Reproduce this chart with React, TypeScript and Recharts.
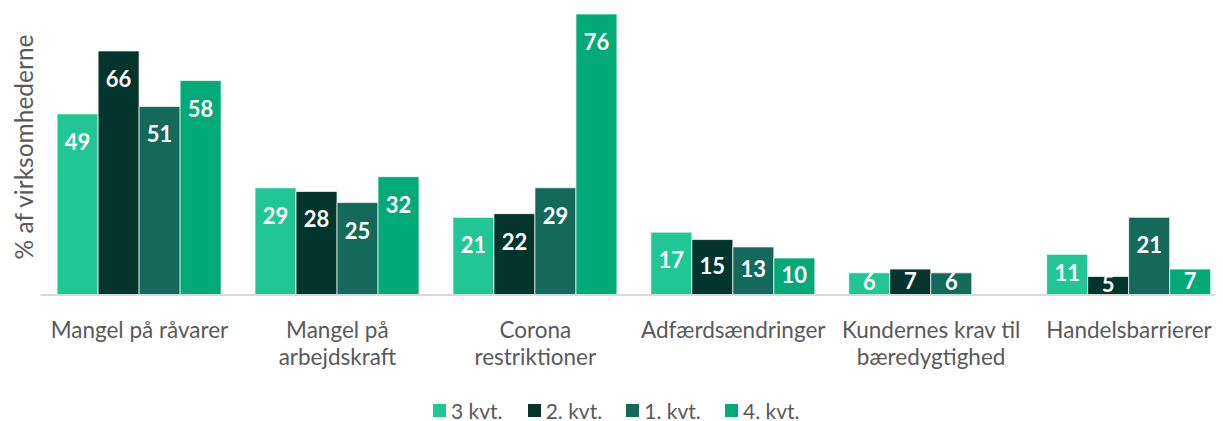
import React from "react";
import { BarChart, Bar, XAxis, YAxis, Legend, LabelList } from "recharts";

const categories = [
  "Mangel på råvarer",
  "Mangel på\narbejdskraft",
  "Corona\nrestriktioner",
  "Adfærdsændringer",
  "Kundernes krav til\nbæredygtighed",
  "Handelsbarrierer",
];
const q3 = [49, 29, 21, 17, 6, 11];
const q2 = [66, 28, 22, 15, 7, 5];
const q1 = [51, 25, 29, 13, 6, 21];
const q4: (number | null)[] = [58, 32, 76, 10, null, 7];

const seriesNames = ["3 kvt.", "2. kvt.", "1. kvt.", "4. kvt."];
const seriesKeys = ["q3", "q2", "q1", "q4"];
const colors = ["#22C695", "#03352C", "#15695A", "#02AA78"];
const yLabel = "% af virksomhederne";

const data = categories.map((c, i) => ({
  name: c,
  q3: q3[i],
  q2: q2[i],
  q1: q1[i],
  q4: q4[i],
}));

const FONT = "Lato, 'Open Sans', sans-serif";
const legendLefts = [425, 519.7, 618.3, 717];

const ValueLabel = (props: any) => {
  const { x, y, width, height, value } = props;
  if (value === null || value === undefined) return null;
  const cy = Math.min(y + 27.5, y + height / 2 - 2);
  return (
    <text
      x={x + width / 2}
      y={cy}
      textAnchor="middle"
      dominantBaseline="central"
      fill="#ffffff"
      fontWeight={700}
      fontSize={22}
      fontFamily={FONT}
    >
      {value}
    </text>
  );
};

const CatTick = (props: any) => {
  const { x, y, payload } = props;
  const lines = String(payload.value).split("\n");
  return (
    <g>
      {lines.map((l: string, i: number) => (
        <text
          key={i}
          x={x}
          y={y + 26 + i * 27.5}
          textAnchor="middle"
          dominantBaseline="central"
          fill="#595959"
          fontSize={22.5}
          fontFamily={FONT}
        >
          {l}
        </text>
      ))}
    </g>
  );
};

const LegendContent = () => (
  <div
    style={{
      position: "relative",
      height: 22,
      fontFamily: FONT,
      fontSize: 21,
      color: "#595959",
    }}
  >
    {seriesNames.map((n, i) => (
      <div
        key={n}
        style={{
          position: "absolute",
          left: legendLefts[i],
          top: 0,
          height: 22,
          display: "flex",
          alignItems: "center",
          whiteSpace: "nowrap",
        }}
      >
        <span
          style={{
            display: "inline-block",
            width: 13,
            height: 13,
            background: colors[i],
            marginRight: 5,
          }}
        />
        <span>{n}</span>
      </div>
    ))}
  </div>
);

export default function App() {
  return (
    <div style={{ width: 1215, height: 413, overflow: "hidden", position: "relative" }}>
      <BarChart
        width={1220}
        height={413}
        data={data}
        margin={{ top: 6, right: 0, bottom: 0, left: 32.5 }}
        barCategoryGap={16.6}
        barGap={0}
      >
        <XAxis
          dataKey="name"
          tick={<CatTick />}
          tickLine={false}
          axisLine={{ stroke: "#D9D9D9", strokeWidth: 2 }}
          height={104}
          interval={0}
        />
        <YAxis hide domain={[0, 76]} />
        <Legend
          verticalAlign="bottom"
          content={<LegendContent />}
          wrapperStyle={{ left: 0, width: 1220 }}
        />
        {seriesKeys.map((k, i) => (
          <Bar
            key={k}
            dataKey={k}
            name={seriesNames[i]}
            fill={colors[i]}
            stroke="#ffffff"
            strokeOpacity={0.7}
            strokeWidth={1}
            isAnimationActive={false}
          >
            <LabelList dataKey={k} content={<ValueLabel />} />
          </Bar>
        ))}
      </BarChart>
      <div
        style={{
          position: "absolute",
          left: 15,
          top: 138.5,
          transform: "translate(-50%, -50%) rotate(-90deg)",
          whiteSpace: "nowrap",
          fontFamily: FONT,
          fontSize: 24.5,
          color: "#595959",
        }}
      >
        {yLabel}
      </div>
    </div>
  );
}
